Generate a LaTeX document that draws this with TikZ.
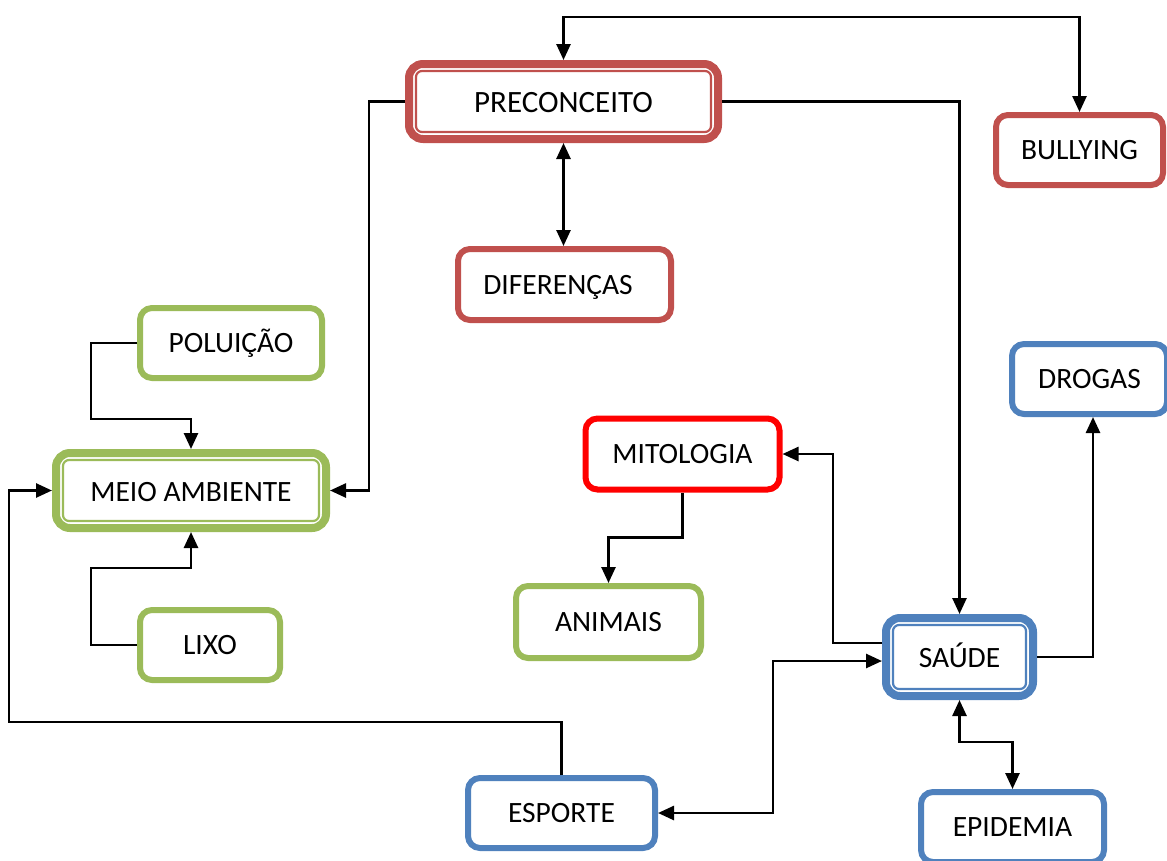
\documentclass[tikz,border=0pt]{standalone}
\usepackage{fontspec}
\setmainfont{Carlito}
\usetikzlibrary{arrows.meta,calc}
\definecolor{cRed}{HTML}{C0504D}
\definecolor{cGreen}{HTML}{9BBB59}
\definecolor{cBlue}{HTML}{4F81BD}
\definecolor{cBright}{HTML}{FF0000}
\newcommand\innerframe[2]{\draw[#2, line width=2.2pt, rounded corners=6pt] ([shift={(11pt,-11pt)}]#1.north west) rectangle ([shift={(-11pt,11pt)}]#1.south east);}
\begin{document}
\begin{tikzpicture}[x=1pt,y=-1pt,
  box/.style={draw=#1, line width=6pt, rounded corners=12pt, fill=white, inner sep=0pt,
    font=\fontsize{29.5}{34}\selectfont, text height=19pt, text depth=0pt},
  dbox/.style={box=#1, line width=8pt, rounded corners=14pt, text height=21pt},
  conn/.style={line width=2.6pt, -{Triangle[length=16pt,width=14pt]}},
  conn2/.style={line width=2.6pt, {Triangle[length=16pt,width=14pt]}-{Triangle[length=16pt,width=14pt]}},
]
\useasboundingbox (0,0) rectangle (1167,860);

% nodes
\node[dbox=cRed, minimum width=309pt, minimum height=75pt, font=\fontsize{31}{36}\selectfont] (pre) at (563.5,101.5) {PRECONCEITO};
\innerframe{pre}{cRed}
\node[box=cRed, minimum width=167pt, minimum height=70pt] (bul) at (1079.5,150) {BULLYING};
\node[box=cRed, minimum width=213pt, minimum height=71pt] (dif) at (564.5,284.5) {\hspace*{-13pt}DIFERENÇAS};
\node[box=cGreen, minimum width=182pt, minimum height=70pt] (pol) at (231,343) {POLUIÇÃO};
\node[dbox=cGreen, minimum width=270pt, minimum height=75pt] (meio) at (191,490.5) {MEIO AMBIENTE};
\innerframe{meio}{cGreen}
\node[box=cGreen, minimum width=140pt, minimum height=70pt] (lixo) at (210,645) {LIXO};
\node[box=cBright, minimum width=194pt, minimum height=71pt] (mit) at (682.5,454) {MITOLOGIA};
\node[box=cGreen, minimum width=185pt, minimum height=72pt] (ani) at (608.5,622) {ANIMAIS};
\node[dbox=cBlue, minimum width=147pt, minimum height=78pt] (sau) at (959.5,657) {SAÚDE};
\innerframe{sau}{cBlue}
\node[box=cBlue, minimum width=155pt, minimum height=70pt] (dro) at (1089.5,379) {DROGAS};
\node[box=cBlue, minimum width=183pt, minimum height=70pt] (epi) at (1012.5,827) {EPIDEMIA};
\node[box=cBlue, minimum width=187pt, minimum height=70pt] (esp) at (561.5,813) {ESPORTE};

% connectors
\draw[conn] (pre.west) -- ++(-36,0) |- (meio.east);
\draw[conn] (pre.east) -| (sau.north);
\draw[conn2] (pre.north) -- ++(0,-43) -| (bul.north);
\draw[conn2] (pre.south) -- (pre.south |- dif.north);
\draw[conn] (pol.west) -- ++(-46,0) |- ([yshift=30pt]meio.north) -- (meio.north);
\draw[conn] (lixo.west) -- ++(-46,0) |- ([yshift=-36pt]meio.south) -- (meio.south);
\draw[conn] (esp.north) -- ++(0,-53) -| ([xshift=-43pt]meio.west) -- (meio.west);
\draw[conn2] ([yshift=-4pt]sau.west) -- ++(-109,0) |- (esp.east);
\draw[conn] ([yshift=14pt]sau.west) -- ++(-49,0) |- (mit.east);
\draw[conn] (sau.east) -| ([xshift=3.5pt]dro.south);
\draw[conn2] (sau.south) -- ++(0,42) -| (epi.north);
\draw[conn] (mit.south) -- ++(0,45) -| (ani.north);
\end{tikzpicture}
\end{document}
